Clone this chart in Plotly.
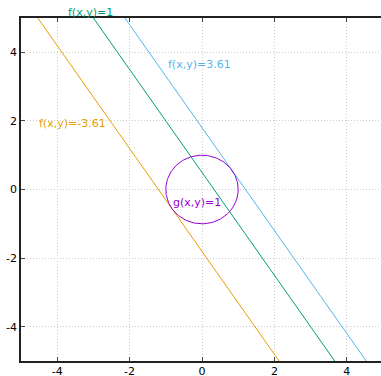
import numpy as np
import plotly.graph_objects as go

# f(x,y) = 3x + 2y, level values
coef_x = 3
coef_y = 2
levels = [1, 3.61, -3.61]
level_labels = ["f(x,y)=1", "f(x,y)=3.61", "f(x,y)=-3.61"]
level_colors = ["#009e73", "#56b4e9", "#e69f00"]
label_pos_x = [-3.76, -1.0, -4.56]
label_pos_y = [5.15, 3.65, 1.92]

# g(x,y) = x^2 + y^2 = 1
g_level = 1
g_label = "g(x,y)=1"
g_color = "#9400d3"
g_label_x = -0.87
g_label_y = -0.37

tick_vals = [-4, -2, 0, 2, 4]
tick_text = ["-4", "-2", "0", "2", "4"]

Y_MIN, Y_MAX = -5, 5

fig = go.Figure()
yy = np.array([5.0, -5.0])
for c, col in zip(levels, level_colors):
    xx = (c - coef_y * yy) / coef_x
    fig.add_trace(go.Scatter(x=xx, y=yy, mode="lines", line=dict(color=col, width=1), showlegend=False, hoverinfo="skip"))

t = np.linspace(0, 2 * np.pi, 200)
r = np.sqrt(g_level)
fig.add_trace(go.Scatter(x=r * np.cos(t), y=r * np.sin(t), mode="lines", line=dict(color=g_color, width=1), showlegend=False, hoverinfo="skip"))

font = dict(family="DejaVu Sans", size=11)
for txt, col, lx, ly in zip(level_labels, level_colors, label_pos_x, label_pos_y):
    if ly > Y_MAX:
        fig.add_annotation(x=lx, y=(ly - Y_MIN) / (Y_MAX - Y_MIN), xref="x", yref="paper", text=txt, showarrow=False,
                           xanchor="left", yanchor="middle", font=dict(color=col, **font))
    else:
        fig.add_annotation(x=lx, y=ly, xref="x", yref="y", text=txt, showarrow=False, xanchor="left", yanchor="middle", font=dict(color=col, **font))
fig.add_annotation(x=g_label_x, y=g_label_y, xref="x", yref="y", text=g_label, showarrow=False, xanchor="left", yanchor="middle", font=dict(color=g_color, **font))

axis_common = dict(showgrid=True, gridcolor="#cccccc", griddash="1px,2px", gridwidth=1, zeroline=False, showline=True, linecolor="#222222", linewidth=1.5, ticks="inside", ticklen=4, tickcolor="#444444", tickvals=tick_vals, ticktext=tick_text, tickfont=dict(family="DejaVu Sans", size=11, color="black"), automargin=False)
fig.update_xaxes(range=[-5, 4.945], mirror="ticks", ticklabelstandoff=-1, **axis_common)
fig.update_yaxes(range=[Y_MIN, Y_MAX], mirror=False, **axis_common)

fig.update_layout(width=381, height=376, margin=dict(l=21, r=0, t=18, b=15), plot_bgcolor="white", paper_bgcolor="white")
fig.write_html("out.html", config={"displayModeBar": False},
               post_script="document.body.style.margin='0px';document.body.style.overflow='hidden';")
